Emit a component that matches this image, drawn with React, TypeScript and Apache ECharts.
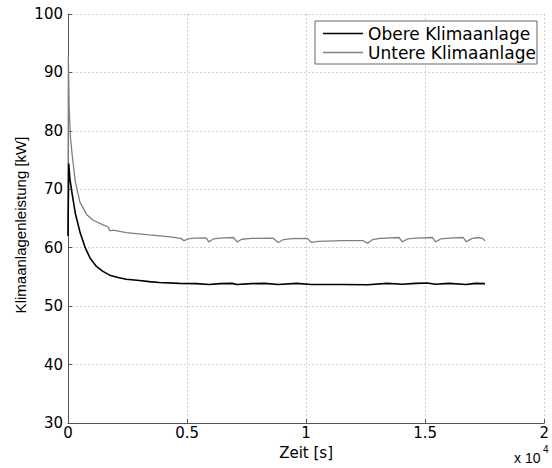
import React, { useEffect, useRef } from "react";
import * as echarts from "echarts";

const seriesNames = ["Obere Klimaanlage", "Untere Klimaanlage"];

const timeObere = [0, 30, 80, 167, 306, 514, 722, 931, 1194, 1450, 1750, 2100, 2444, 3000, 3417, 3833, 4667, 5400, 5917, 6400, 6889, 7097, 7700, 8250, 8833, 9600, 10222, 11500, 12583, 13400, 14042, 14600, 15083, 15431, 16000, 16722, 17100, 17514];
const obere = [62, 74.4, 71.8, 69.4, 65.9, 62.5, 60.0, 58.2, 56.8, 56.0, 55.3, 54.9, 54.6, 54.4, 54.2, 54.05, 53.9, 53.85, 53.7, 53.85, 53.9, 53.7, 53.85, 53.9, 53.7, 53.9, 53.7, 53.7, 53.65, 53.9, 53.75, 53.9, 53.95, 53.75, 53.9, 53.7, 53.9, 53.85];

const timeUntere = [0, 15, 50, 100, 167, 300, 500, 780, 1056, 1472, 1700, 1750, 1900, 2444, 3417, 4200, 4736, 4875, 5050, 5300, 5800, 5917, 6100, 6400, 6950, 7097, 7300, 7700, 8600, 8833, 9050, 9400, 10050, 10222, 10500, 11500, 12400, 12583, 12800, 13100, 13900, 14042, 14250, 14600, 15300, 15431, 15650, 16000, 16600, 16722, 16950, 17200, 17400, 17514];
const untere = [62.5, 92.7, 84, 79, 76.2, 71.5, 67.8, 65.7, 64.7, 63.9, 63.5, 62.9, 63.0, 62.6, 62.2, 61.9, 61.6, 61.2, 61.5, 61.65, 61.7, 61.0, 61.5, 61.65, 61.75, 61.0, 61.45, 61.6, 61.65, 60.9, 61.4, 61.55, 61.6, 60.9, 61.1, 61.2, 61.2, 60.75, 61.4, 61.6, 61.75, 61.0, 61.5, 61.65, 61.75, 61.0, 61.5, 61.65, 61.75, 61.0, 61.55, 61.75, 61.6, 61.2];

const xTicks = [0, 5000, 10000, 15000, 20000];
const yTicks = [30, 40, 50, 60, 70, 80, 90, 100];

export default function App() {
  const ref = useRef<HTMLDivElement>(null);
  useEffect(() => {
    document.body.style.margin = "0";
    if (!ref.current) return;
    const chart = echarts.init(ref.current, null, { renderer: "svg" });
    const font = "DejaVu Sans";
    chart.setOption({
      animation: false,
      backgroundColor: "#ffffff",
      grid: { left: 68, top: 14, right: 4, bottom: 45, containLabel: false },
      legend: {
        data: seriesNames,
        orient: "vertical",
        right: 15,
        top: 21,
        icon: "rect",
        backgroundColor: "#ffffff",
        borderColor: "#666666",
        borderWidth: 1,
        borderRadius: 0,
        padding: [4, 1, 3, 8],
        itemWidth: 40,
        itemHeight: 1.5,
        itemGap: 2,
        textStyle: { fontFamily: font, fontSize: 17, color: "#000", lineHeight: 17 },
      },
      xAxis: {
        type: "value",
        min: xTicks[0],
        max: xTicks[xTicks.length - 1],
        interval: 5000,
        name: "Zeit [s]",
        nameLocation: "middle",
        nameGap: 22,
        nameTextStyle: { fontFamily: font, fontSize: 15, color: "#000" },
        axisLine: { show: true, onZero: false, lineStyle: { color: "#555", width: 1 } },
        axisTick: { show: true, inside: true, length: 4, lineStyle: { color: "#555" } },
        axisLabel: {
          fontFamily: font,
          fontSize: 15,
          color: "#000",
          margin: 2,
          formatter: (v: number) => String(v / 10000),
        },
        splitLine: { show: true, lineStyle: { color: "#cfcfcf", type: [2, 2], width: 1 } },
      },
      yAxis: {
        type: "value",
        min: yTicks[0],
        max: yTicks[yTicks.length - 1],
        interval: 10,
        axisLine: { show: true, onZero: false, lineStyle: { color: "#555", width: 1 } },
        axisTick: { show: true, inside: true, length: 4, lineStyle: { color: "#555" } },
        axisLabel: { fontFamily: font, fontSize: 15, color: "#000", margin: 5 },
        splitLine: { show: true, lineStyle: { color: "#cfcfcf", type: [2, 2], width: 1 } },
      },
      graphic: [
        {
          type: "text",
          x: 20,
          y: 225,
          rotation: Math.PI / 2,
          style: {
            text: "Klimaanlagenleistung [kW]",
            fontFamily: "Liberation Sans",
            fontSize: 15,
            fill: "#000",
            align: "center",
            verticalAlign: "middle",
          },
        },
        { type: "text", left: 514, top: 451, style: { text: "x 10", fontFamily: "Liberation Sans", fontSize: 14, fill: "#000" } },
        { type: "text", left: 543, top: 444, style: { text: "4", fontFamily: "Liberation Sans", fontSize: 10, fill: "#000" } },
      ],
      series: [
        {
          name: seriesNames[0],
          type: "line",
          symbol: "none",
          smooth: false,
          lineStyle: { color: "#000000", width: 1.6 },
          itemStyle: { color: "#000000" },
          data: timeObere.map((t, i) => [t, obere[i]]),
          z: 3,
        },
        {
          name: seriesNames[1],
          type: "line",
          symbol: "none",
          smooth: false,
          lineStyle: { color: "#808080", width: 1.3 },
          itemStyle: { color: "#808080" },
          data: timeUntere.map((t, i) => [t, untere[i]]),
          z: 2,
        },
      ],
    });
    return () => chart.dispose();
  }, []);
  return <div ref={ref} style={{ width: 552, height: 468 }} />;
}
